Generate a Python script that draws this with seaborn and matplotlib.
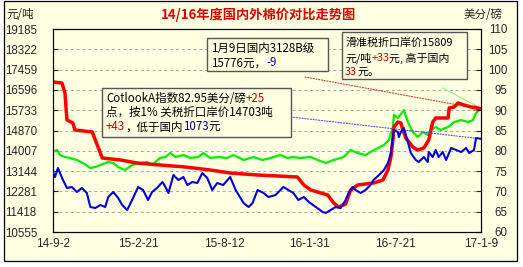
import numpy as np
import pandas as pd
import matplotlib
matplotlib.use("Agg")
import matplotlib.pyplot as plt
import seaborn as sns
from matplotlib.patches import Rectangle

# ---------------- data ----------------
start_date = "2014-09-02"
xtick_dates = ["2014-09-02", "2015-02-21", "2015-08-12", "2016-01-31", "2016-07-21", "2017-01-09"]
xtick_labels = ["14-9-2", "15-2-21", "15-8-12", "16-1-31", "16-7-21", "17-1-9"]
left_ticks = [10555, 11418, 12281, 13144, 14007, 14870, 15733, 16596, 17459, 18322, 19185]
right_ticks = [60, 65, 70, 75, 80, 85, 90, 95, 100, 105, 110]

# domestic 3128B (yuan/ton), days since start
red_days = [0, 18, 24, 28, 40, 44, 79, 85, 99, 135, 169, 215, 266, 316, 356, 411, 491, 504, 518,
            552, 564, 574, 588, 598, 612, 644, 663, 673, 679, 683, 685, 693, 699, 703, 709, 723,
            733, 745, 755, 763, 769, 794, 796, 806, 814, 826, 840, 854, 860]
red_vals = [16932, 16889, 16464, 15316, 15188, 14891, 14806, 14466, 13701, 13616, 13488, 13403,
            13318, 13191, 13063, 12978, 12893, 12553, 12340, 12128, 11788, 11618, 11745, 12340,
            12553, 12638, 12766, 13191, 13743, 14466, 15019, 15231, 15188, 14891, 14551, 14168,
            14041, 14126, 14466, 15231, 15401, 15401, 15826, 15869, 16039, 15954, 15869, 15826,
            15776]

# sliding-tariff import price (yuan/ton)
green_days = [0, 8, 14, 24, 34, 48, 60, 75, 85, 95, 111, 121, 131, 145, 159, 175, 189, 199, 215,
              226, 236, 246, 262, 276, 292, 302, 316, 332, 350, 363, 383, 403, 421, 437, 457, 471,
              483, 497, 518, 532, 548, 564, 584, 598, 612, 628, 638, 653, 665, 675, 683, 685, 693,
              705, 713, 723, 733, 743, 753, 759, 769, 779, 794, 806, 820, 834, 844, 850, 860]
green_vals = [13956, 14041, 13828, 13743, 13701, 13616, 13488, 13276, 13318, 13403, 13531, 13488,
              13318, 13191, 13403, 13488, 13531, 13403, 13701, 13743, 13913, 13743, 13828, 13701,
              13743, 13913, 13701, 13743, 13701, 13828, 13616, 13743, 13616, 13701, 13828, 13701,
              13743, 13701, 13743, 13616, 13488, 13616, 13743, 14041, 13913, 13828, 13956, 14126,
              14253, 14466, 15019, 15529, 15401, 15741, 15231, 14806, 14593, 14806, 14678, 14891,
              15019, 14891, 15019, 15231, 15316, 15231, 15316, 15614, 15809]

# Cotlook A index (US cents/lb)
blue_days = [0, 4, 10, 14, 20, 28, 38, 48, 58, 68, 75, 85, 95, 105, 111, 121, 131, 139, 149, 159,
             171, 181, 191, 199, 209, 220, 226, 232, 242, 252, 262, 270, 280, 290, 300, 310, 320,
             330, 342, 356, 367, 383, 393, 401, 411, 423, 433, 447, 457, 463, 473, 483, 493, 504,
             514, 528, 542, 548, 558, 568, 578, 588, 594, 602, 608, 618, 628, 638, 644, 655, 665,
             673, 679, 683, 685, 693, 695, 699, 705, 713, 719, 729, 735, 745, 753, 755, 763, 769,
             775, 783, 790, 800, 810, 820, 830, 836, 846, 850, 860]
blue_vals = [74.78, 73.55, 75.76, 74.53, 72.81, 70.84, 71.08, 69.85, 70.84, 69.61, 66.16, 65.91,
             66.65, 66.16, 68.62, 69.85, 68.37, 66.65, 65.42, 67.88, 71.08, 70.34, 67.88, 69.85,
             70.84, 72.32, 71.08, 69.61, 74.04, 72.81, 73.55, 71.58, 72.32, 72.07, 74.53, 73.30,
             70.34, 72.07, 71.58, 73.55, 70.34, 67.14, 66.16, 67.14, 70.34, 69.61, 68.62, 69.11,
             70.34, 71.08, 70.34, 69.61, 67.88, 68.62, 67.39, 66.16, 64.93, 64.68, 65.42, 66.16,
             65.91, 67.88, 69.61, 71.08, 70.34, 69.61, 70.34, 71.58, 72.81, 74.04, 75.27, 77.00,
             79.46, 83.40, 85.12, 84.63, 83.40, 84.63, 85.62, 82.17, 79.46, 77.73, 77.24, 78.47,
             77.24, 79.70, 78.47, 80.20, 78.47, 79.70, 77.73, 80.69, 80.20, 79.70, 80.69, 79.46,
             80.20, 83.15, 82.95]

# ---------------- figure ----------------
W, H = 523, 267
BG = "#FFFFE1"
FAM = ["Noto Sans CJK SC", "DejaVu Sans"]
TICKFAM = "Liberation Sans"

sns.set_style("white")
plt.rcParams["font.family"] = FAM

fig = plt.figure(figsize=(W / 100, H / 100), dpi=100, facecolor="white")
fig.patches.append(Rectangle((4 / W, 1 - 261 / H), 513 / W, 260 / H, transform=fig.transFigure,
                             facecolor=BG, edgecolor="black", linewidth=0.9, zorder=-5))

L, R, T, B = 53, 481, 29, 232
ax = fig.add_axes([L / W, 1 - B / H, (R - L) / W, (B - T) / H])
ax.set_facecolor(BG)
ax2 = ax.twinx()

t0 = pd.Timestamp(start_date)
def to_dates(days):
    return t0 + pd.to_timedelta(np.array(days), unit="D")

red_df = pd.DataFrame({"date": to_dates(red_days), "v": red_vals})
green_df = pd.DataFrame({"date": to_dates(green_days), "v": green_vals})
blue_df = pd.DataFrame({"date": to_dates(blue_days), "v": blue_vals})

sns.lineplot(data=green_df, x="date", y="v", ax=ax, color="#00F000", linewidth=1.6, zorder=3)
sns.lineplot(data=red_df, x="date", y="v", ax=ax, color="#FF0000", linewidth=2.5, zorder=4)
sns.lineplot(data=blue_df, x="date", y="v", ax=ax2, color="#0000E0", linewidth=1.5, zorder=3)

xt = pd.to_datetime(xtick_dates)
for a in (ax, ax2):
    a.set_xlim(xt[0], xt[-1])
    a.set_xlabel("")
    a.set_ylabel("")
    for s in a.spines.values():
        s.set_color("black")
        s.set_linewidth(0.8)

ax.set_ylim(left_ticks[0], left_ticks[-1])
ax.set_yticks(left_ticks)
ax.set_yticklabels([str(v) for v in left_ticks], ha="left", family=TICKFAM, fontsize=8.3)
ax.tick_params(axis="y", direction="in", length=3.5, width=0.8, pad=34.5)
ax.set_xticks(xt)
ax.set_xticklabels(xtick_labels, family=TICKFAM, fontsize=8.5)
ax.tick_params(axis="x", direction="in", length=3.5, width=0.8, pad=4)
ax.grid(axis="y", color="#A8A8A8", linestyle=(0, (3, 3)), linewidth=0.7)
ax.grid(axis="x", visible=False)

ax2.set_ylim(right_ticks[0], right_ticks[-1])
ax2.set_yticks(right_ticks)
ax2.set_yticklabels([str(v) for v in right_ticks], ha="right", family=TICKFAM, fontsize=8.3)
ax2.tick_params(axis="y", direction="in", length=3.5, width=0.8, pad=19)
ax2.grid(False)

# connectors (dotted) from boxes to line ends
def px(x, y):
    return (x, H - y)

ax.annotate("", xy=(red_df["date"].iloc[-1], red_df["v"].iloc[-1]), xytext=px(305, 77),
            textcoords="figure pixels", annotation_clip=False,
            arrowprops=dict(arrowstyle="->", color="#E03030", linestyle=(0, (1, 1.5)), lw=0.8,
                            shrinkA=0, shrinkB=0), zorder=2)
ax.annotate("", xy=(green_df["date"].iloc[-1], green_df["v"].iloc[-1]), xytext=px(443, 88),
            textcoords="figure pixels", annotation_clip=False,
            arrowprops=dict(arrowstyle="-", color="#80F080", lw=0.7, shrinkA=0, shrinkB=0), zorder=2)
ax2.annotate("", xy=(blue_df["date"].iloc[-1], blue_df["v"].iloc[-1]), xytext=px(291, 117),
             textcoords="figure pixels", annotation_clip=False,
             arrowprops=dict(arrowstyle="-", color="#5050D0", linestyle=(0, (1, 1.5)), lw=0.8,
                             shrinkA=0, shrinkB=0), zorder=2)

# header texts
fig.text(259 / W, 1 - 15 / H, "14/16年度国内外棉价对比走势图", color="#E00000", fontsize=9.5,
         fontweight="bold", ha="center", va="center", family=FAM)
fig.text(6 / W, 1 - 15 / H, "元/吨", fontsize=8.3, ha="left", va="center", family=FAM)
fig.text(503 / W, 1 - 15 / H, "美分/磅", fontsize=8.3, ha="right", va="center", family=FAM)

# annotation boxes
def box(x0, y0, x1, y1):
    fig.patches.append(Rectangle((x0 / W, 1 - y1 / H), (x1 - x0) / W, (y1 - y0) / H,
                                 transform=fig.transFigure, facecolor=BG, edgecolor="#555555",
                                 linewidth=1.0, zorder=5))

fig.canvas.draw()
renderer = fig.canvas.get_renderer()

def seg_line(x, y, segments, size=8.3):
    for s, c in segments:
        t = fig.text(x / W, 1 - y / H, s, color=c, fontsize=size, ha="left", va="center",
                     family=FAM, zorder=6)
        x += t.get_window_extent(renderer).width

DARK = "#000000"
RED = "#D00000"
BLUE = "#0000C0"

box(207, 38, 328, 71)
seg_line(211, 48, [("1月9日国内3128B级", DARK)])
seg_line(211, 63, [("15776元，", DARK), ("-9", BLUE)])

box(342, 32, 467, 79)
seg_line(345, 43, [("滑准税折口岸价15809", DARK)], size=7.9)
seg_line(345, 58, [("元/吨", DARK), ("+33", RED), ("元, 高于国内", DARK)], size=7.9)
seg_line(345, 72, [("33", "#B00000"), ("元。", DARK)], size=7.9)

box(102, 88, 291, 137)
seg_line(106, 98, [("CotlookA指数82.95美分/磅", DARK), ("+25", RED)])
seg_line(106, 112, [("点，按1% 关税折口岸价14703吨", DARK)])
seg_line(106, 127, [("+43", RED), ("，低于国内", DARK), ("1073", "#000090"), ("元", DARK)])

fig.savefig("out.png", dpi=100, facecolor="white")
